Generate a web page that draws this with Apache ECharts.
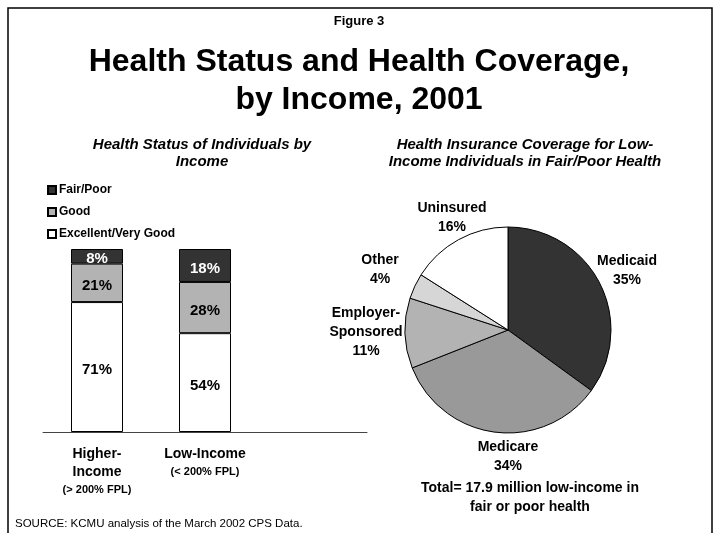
<!DOCTYPE html>
<html><head><meta charset="utf-8">
<script src="https://cdn.jsdelivr.net/npm/echarts@6/dist/echarts.min.js"></script>
<style>html,body{margin:0;padding:0;background:#fff}#c{width:718px;height:533px}</style>
</head><body><div id="c"></div>
<script>
// ---- data ----
var barCategories = ['Higher-Income', 'Low-Income', ''];
var barCategorySub = ['(> 200% FPL)', '(< 200% FPL)', ''];
var excellentVeryGood = [71, 54, null];
var good = [21, 28, null];
var fairPoor = [8, 18, null];

var pieNames = ['Medicaid', 'Medicare', 'Employer-\nSponsored', 'Other', 'Uninsured'];
var pieValues = [35, 34, 11, 4, 16];

// ---- styles ----
var FONT = 'Liberation Sans, Arial, sans-serif';
var pieColors = ['#333333', '#999999', '#b3b3b3', '#d6d6d6', '#ffffff'];
var pieLabelPos = [[627, 271], [508, 457], [366, 332], [380, 270], [452, 218]];

var chart = echarts.init(document.getElementById('c'), null, {renderer: 'canvas'});

function barLabel(color) {
  return {show: true, position: 'inside', offset: [0, 3], color: color, fontFamily: FONT, fontWeight: 'bold', fontSize: 15,
    formatter: function (p) { return p.value == null ? '' : p.value + '%'; }};
}

var option = {
  animation: false,
  backgroundColor: '#fff',
  title: [
    {text: 'Figure 3', left: 'center', top: 10, textStyle: {fontFamily: FONT, fontWeight: 'bold', fontSize: 13, color: '#000'}},
    {text: 'Health Status and Health Coverage,\nby Income, 2001', left: 'center', top: 38,
      textStyle: {fontFamily: FONT, fontWeight: 'bold', fontSize: 32, lineHeight: 38, color: '#000'}},
    {text: 'Health Status of Individuals by\nIncome', left: 197, textAlign: 'center', top: 131,
      textStyle: {fontFamily: FONT, fontWeight: 'bold', fontStyle: 'italic', fontSize: 15, lineHeight: 17, color: '#000'}},
    {text: 'Health Insurance Coverage for Low-\nIncome Individuals in Fair/Poor Health', left: 520, textAlign: 'center', top: 131,
      textStyle: {fontFamily: FONT, fontWeight: 'bold', fontStyle: 'italic', fontSize: 15, lineHeight: 17, color: '#000'}},
    {text: 'Total= 17.9 million low-income in\nfair or poor health', left: 525, textAlign: 'center', top: 474,
      textStyle: {fontFamily: FONT, fontWeight: 'bold', fontSize: 14, lineHeight: 19, color: '#000'}},
    {text: 'SOURCE: KCMU analysis of the March 2002 CPS Data.', left: 10, top: 513,
      textStyle: {fontFamily: FONT, fontWeight: 'normal', fontSize: 11.5, color: '#000'}}
  ],
  legend: {
    orient: 'vertical', left: 42, top: 179, itemWidth: 8, itemHeight: 8, itemGap: 10,
    icon: 'rect',
    data: ['Fair/Poor', 'Good', 'Excellent/Very Good'],
    textStyle: {fontFamily: FONT, fontWeight: 'bold', fontSize: 12, lineHeight: 12, color: '#000', padding: [0, 0, 0, -2]},
    selectedMode: false
  },
  grid: {left: 43, right: 351, top: 249, bottom: 101},
  xAxis: {
    type: 'category', data: barCategories,
    axisLine: {lineStyle: {color: '#444', width: 1}},
    axisTick: {show: false},
    axisLabel: {
      interval: 0, margin: 13, verticalAlign: 'top', lineHeight: 18,
      formatter: function (v, i) {
        if (!v) return '';
        var main = v.replace('Higher-', 'Higher-\n');
        var lines = main.split('\n').map(function (s) { return '{m|' + s + '}'; });
        lines.push('{s|' + barCategorySub[i] + '}');
        return lines.join('\n');
      },
      rich: {
        m: {fontFamily: FONT, fontWeight: 'bold', fontSize: 14, lineHeight: 18, color: '#000'},
        s: {fontFamily: FONT, fontWeight: 'bold', fontSize: 11, lineHeight: 18, color: '#000'}
      }
    }
  },
  yAxis: {type: 'value', min: 0, max: 100, show: false, splitLine: {show: false}},
  series: [
    {name: 'Excellent/Very Good', type: 'bar', stack: 's', barWidth: 52, data: excellentVeryGood,
      itemStyle: {color: '#ffffff', borderColor: '#000', borderWidth: 1}, label: barLabel('#000')},
    {name: 'Good', type: 'bar', stack: 's', barWidth: 52, data: good,
      itemStyle: {color: '#b3b3b3', borderColor: '#000', borderWidth: 1}, label: barLabel('#000')},
    {name: 'Fair/Poor', type: 'bar', stack: 's', barWidth: 52, data: fairPoor,
      itemStyle: {color: '#333333', borderColor: '#000', borderWidth: 1}, label: barLabel('#fff')},
    {
      type: 'pie', center: [508, 330], radius: 103, startAngle: 90, clockwise: true,
      data: pieNames.map(function (n, i) { return {name: n, value: pieValues[i], itemStyle: {color: pieColors[i]}}; }),
      itemStyle: {borderColor: '#000', borderWidth: 1},
      label: {show: true, position: 'outside', overflow: 'none', edgeDistance: 0,
        formatter: function (p) { return p.name + '\n' + p.value + '%'; },
        fontFamily: FONT, fontWeight: 'bold', fontSize: 14, lineHeight: 19, color: '#000', align: 'center'},
      labelLine: {show: false},
      labelLayout: function (p) {
        var pos = pieLabelPos[p.dataIndex];
        return {x: pos[0], y: pos[1], align: 'center', verticalAlign: 'middle'};
      },
      emphasis: {disabled: true}
    }
  ],
  graphic: [
    {type: 'rect', shape: {x: 8, y: 8, width: 704, height: 540}, style: {fill: null, stroke: '#000', lineWidth: 1.5}, silent: true}
  ]
};
chart.setOption(option);
</script>
</body></html>
